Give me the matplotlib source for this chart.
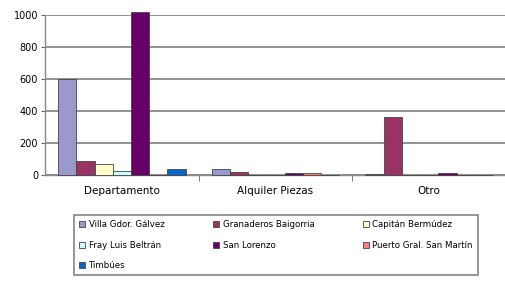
import matplotlib
matplotlib.use("Agg")
import matplotlib.pyplot as plt
import numpy as np

categories = ["Departamento", "Alquiler Piezas", "Otro"]
series_names = ["Villa Gdor. Gálvez", "Granaderos Baigorria", "Capitán Bermúdez",
                "Fray Luis Beltrán", "San Lorenzo", "Puerto Gral. San Martín", "Timbúes"]
values = {
    "Villa Gdor. Gálvez":      [600, 35, 5],
    "Granaderos Baigorria":    [85, 20, 365],
    "Capitán Bermúdez":        [70, 3, 0],
    "Fray Luis Beltrán":       [25, 0, 0],
    "San Lorenzo":             [1015, 15, 15],
    "Puerto Gral. San Martín": [3, 12, 2],
    "Timbúes":                 [35, 2, 2],
}
colors = ["#9999CC", "#993366", "#FFFFCC", "#CCFFFF", "#660066", "#FF8080", "#0066CC"]
yticks = [0, 200, 400, 600, 800, 1000]

fig = plt.figure(figsize=(5.06, 2.81), dpi=100)
ax = fig.add_axes([0.089, 0.377, 0.911, 0.570])

n = len(series_names)
group_w = 0.83
bw = group_w / n
x = np.arange(len(categories))
handles = []
for i, (name, c) in enumerate(zip(series_names, colors)):
    off = -group_w / 2 + bw * (i + 0.5)
    h = ax.bar(x + off, values[name], bw, color=c, edgecolor="#444444", linewidth=0.6,
               label=name, zorder=3, clip_on=False)
    handles.append(h)

ax.set_xlim(-0.5, len(categories) - 0.5)
ax.set_ylim(0, 1000)
ax.set_yticks(yticks)
ax.set_yticklabels([str(v) for v in yticks], fontsize=7)
ax.yaxis.grid(True, color="#888888", linewidth=1.3, zorder=0)
ax.set_xticks(x)
ax.set_xticklabels(categories, fontsize=7.5)
ax.tick_params(axis="x", length=0, pad=8)
ax.set_xticks(np.arange(0.5, len(categories) - 1, 1.0), minor=True)
ax.tick_params(axis="x", which="minor", length=4, color="#666666")
ax.tick_params(axis="y", length=3, color="#666666", pad=2)
for s in ["top", "right"]:
    ax.spines[s].set_visible(False)
for s in ["left", "bottom"]:
    ax.spines[s].set_color("#888888")
    ax.spines[s].set_linewidth(1.0)

# row-wise legend order for a 3-column legend
order = [0, 3, 6, 1, 4, 2, 5]
leg = fig.legend([handles[i] for i in order], [series_names[i] for i in order],
                 loc="lower left", bbox_to_anchor=(0.138, 0.006, 0.815, 0.23), mode="expand",
                 ncol=3, fontsize=6.2, frameon=True, fancybox=False, edgecolor="#666666",
                 handlelength=0.7, handleheight=0.7, handletextpad=0.4, borderpad=0.6,
                 labelspacing=1.3, columnspacing=1.0)
leg.get_frame().set_linewidth(1.2)

fig.savefig("out.png", dpi=100)
